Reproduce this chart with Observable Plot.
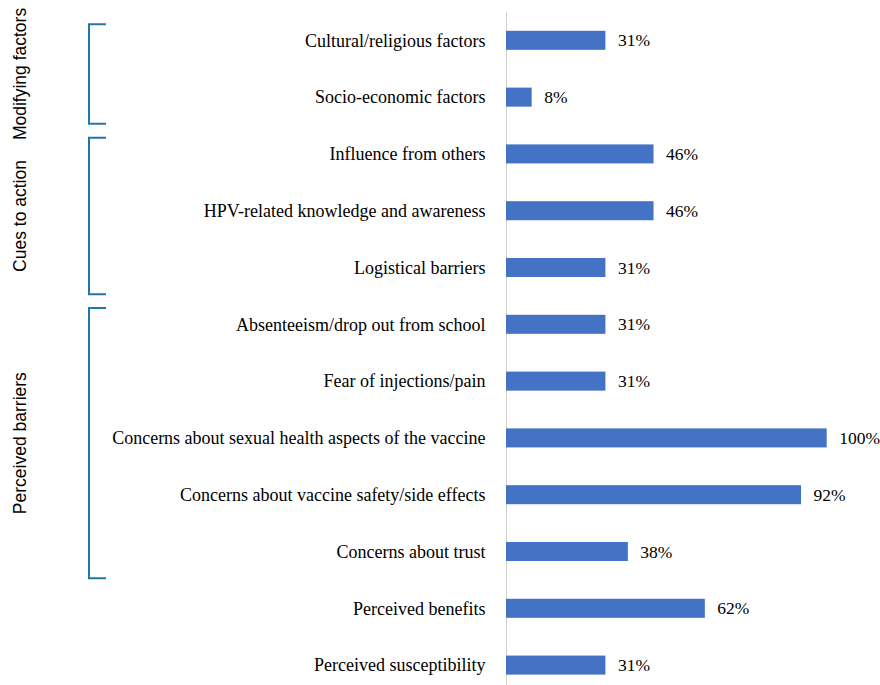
<!DOCTYPE html>
<html><head><meta charset="utf-8">
<script src="https://cdn.jsdelivr.net/npm/d3@7"></script>
<script src="https://cdn.jsdelivr.net/npm/@observablehq/plot@0.6"></script>
<style>html,body{margin:0;padding:0;background:#fff;} #chart{width:880px;height:685px;}</style>
</head><body><div id="chart"></div>
<script>
const categories = [
  "Cultural/religious factors",
  "Socio-economic factors",
  "Influence from others",
  "HPV-related knowledge and awareness",
  "Logistical barriers",
  "Absenteeism/drop out from school",
  "Fear of injections/pain",
  "Concerns about sexual health aspects of the vaccine",
  "Concerns about vaccine safety/side effects",
  "Concerns about trust",
  "Perceived benefits",
  "Perceived susceptibility"
];
const values = [31, 8, 46, 46, 31, 31, 31, 100, 92, 38, 62, 31];

const groupNames = ["Modifying factors", "Cues to action", "Perceived barriers"];
const groupFirst = ["Cultural/religious factors", "Influence from others", "Absenteeism/drop out from school"];
const groupLast = ["Socio-economic factors", "Logistical barriers", "Concerns about trust"];

const data = categories.map((c, i) => ({category: c, value: values[i]}));
const serif = "'Liberation Serif', 'Times New Roman', Times, serif";

const chart = Plot.plot({
  width: 880, height: 685,
  marginLeft: 506, marginRight: 53.3, marginTop: 12, marginBottom: 0,
  style: {fontFamily: serif, fontSize: "17.5px", background: "#fff", color: "#000", overflow: "visible"},
  x: {domain: [0, 100], axis: null},
  y: {domain: categories, paddingInner: 0.665, paddingOuter: 0.257, align: 0.644, round: false, label: null},
  marks: [
    Plot.ruleX([0], {stroke: "#d0d0d0", strokeWidth: 1}),
    Plot.barX(data, {x: "value", y: "category", fill: "#4472C4"}),
    Plot.text(data, {x: "value", y: "category", text: d => d.value + "%", textAnchor: "start", dx: 12, fontSize: 17.5, fontFamily: serif, fill: "#000"}),
    Plot.axisY({tickSize: 0, tickPadding: 21, fontSize: 18, fontFamily: serif, fill: "#000", label: null})
  ]
});
document.getElementById("chart").appendChild(chart);

// Group brackets, positioned with the chart's own y scale
const ys = chart.scale("y");
const bw = ys.bandwidth;
const step = ys.step;
const g = d3.select(chart).append("g");
groupNames.forEach((name, i) => {
  const top = ys.apply(groupFirst[i]) + bw / 2 - 0.285 * step;
  const bottom = ys.apply(groupLast[i]) + bw / 2 + 0.47 * step;
  g.append("path")
    .attr("d", `M106,${top}H89V${bottom}H106`)
    .attr("fill", "none")
    .attr("stroke", "#1f78a8")
    .attr("stroke-width", 2);
  g.append("text")
    .attr("transform", `translate(25.5,${(top + bottom) / 2}) rotate(-90)`)
    .attr("text-anchor", "middle")
    .attr("font-family", "'Liberation Sans', Arial, sans-serif")
    .attr("font-size", 17.5)
    .attr("fill", "#000")
    .text(name);
});
</script>
</body></html>
